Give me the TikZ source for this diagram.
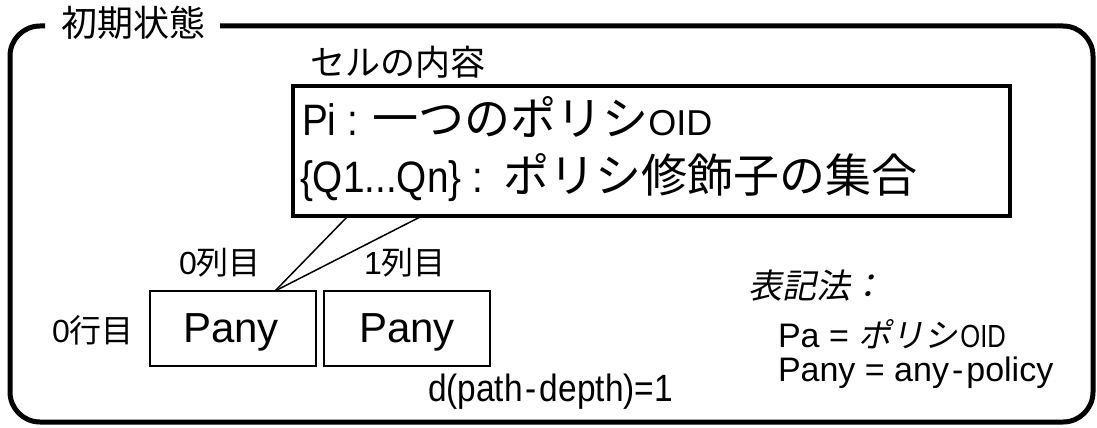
\documentclass[tikz,border=0pt]{standalone}
\usepackage{fontspec}
\usepackage{graphicx}
\setmainfont{Liberation Sans}
\newfontfamily\jp{Noto Sans CJK JP}
\newfontfamily\jpi[FakeSlant=0.2]{Noto Sans CJK JP}
\newfontfamily\narrowlat[FakeStretch=0.88]{Liberation Sans}
\newcommand{\fs}[1]{\fontsize{#1}{#1}\selectfont}
\tikzset{
  frame/.style={line width=5pt, rounded corners=30pt},
  lbl/.style={inner sep=0pt, outer sep=0pt},
  cellbox/.style={draw, line width=1.5pt, minimum width=166pt, minimum height=75pt,
                  inner sep=0pt, outer sep=0pt},
  contentbox/.style={draw, line width=3.5pt, minimum width=717pt, minimum height=130pt,
                     inner sep=0pt, outer sep=0pt},
  link/.style={line width=1.5pt},
}
\begin{document}
\begin{tikzpicture}[x=1pt, y=-1pt]
\useasboundingbox (0,0) rectangle (1097,428);
% outer frame with title gap
\draw[frame] (220,26) -- (1093,26) -- (1093,422) -- (10,422) -- (10,26) -- (45,26);
\node[lbl, anchor=base] (title) at (133,37) {\fs{36}\jp 初期状態};

% cell content box
\node[lbl, anchor=base west] (cap) at (310,75) {\fs{35}\jp セルの内容};
\node[contentbox, anchor=north west] (content) at (293,86) {};
\node[lbl, anchor=base west] (l1) at (302,135)
  {\fs{44}\narrowlat Pi : {\fs{46}\jp 一つのポリシ}{\fs{36}\setmainfont{Liberation Sans}OID}};
\node[lbl, anchor=base west] (l2) at (300,192)
  {\fs{44}\narrowlat \{Q1...Qn\} :\kern6pt{} {\fs{46}\jp ポリシ修飾子の集合}};

% cells
\node[cellbox] (c0) at (233,328.5) {};
\node[cellbox] (c1) at (407,328.5) {};
\node[lbl, anchor=base] (p0) at (231,342) {\fs{42}Pany};
\node[lbl, anchor=base] (p1) at (407,342) {\fs{42}Pany};
\node[lbl, anchor=base] (col0) at (220,274) {\fs{32}0{\jp 列目}};
\node[lbl, anchor=base] (col1) at (405,274) {\fs{32}1{\jp 列目}};
\node[lbl, anchor=base] (row0) at (93,342) {\fs{32}0{\jp 行目}};
\node[lbl, anchor=base west] (depth) at (428,401) {\fs{38}\narrowlat d(path\kern3pt-\kern3pt depth)=1};

% connectors from cell to content box
\coordinate (apex) at (275,291);
\coordinate (t1) at (348,216);
\coordinate (t2) at (422,216);
\draw[link] (apex) -- (t1);
\draw[link] (apex) -- (t2);

% legend
\node[lbl, anchor=base west] (leg) at (748,298) {\fs{34}\jpi 表記法：};
\node[lbl, anchor=base west] (pa) at (778,347)
  {\fs{34}Pa = {\fs{33}\jpi ポリシ}\kern3pt{\fs{32}\scalebox{0.8}[1]{OID}}};
\node[lbl, anchor=base west] (pany) at (778,381) {\fs{34}Pany = any\kern3pt-\kern3pt policy};
\end{tikzpicture}
\end{document}
